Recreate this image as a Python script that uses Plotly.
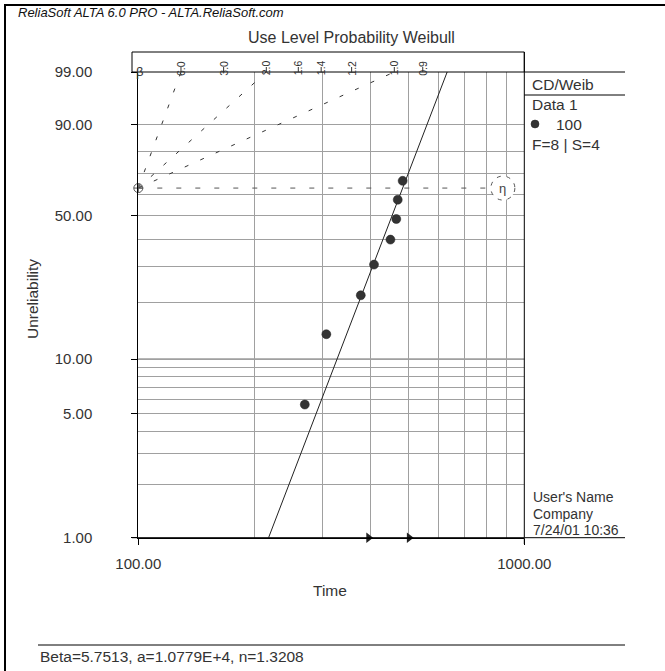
import numpy as np
import plotly.graph_objects as go

W, H = 665, 671

# ---------------- data ----------------
fail_times = [270, 307, 377, 408, 450, 466, 470, 484]
fail_unrel = [5.63, 13.6, 21.65, 30.6, 39.8, 48.6, 57.6, 66.7]   # percent
susp_times = [395, 503]
beta_fit = 5.7513
eta_fit = 484.0

y_tick_pct = [1, 5, 10, 50, 90, 99]
y_tick_text = ["1.00", "5.00", "10.00", "50.00", "90.00", "99.00"]
y_minor_pct = [2, 3, 4, 6, 7, 8, 9, 20, 30, 40, 60, 70, 80]
x_tick_vals = [100, 1000]
x_tick_text = ["100.00", "1000.00"]
x_minor_vals = [200, 300, 400, 500, 600, 700, 800, 900]
beta_scale = [6.0, 3.0, 2.0, 1.6, 1.4, 1.2, 1.0, 0.9]
beta_scale_text = ["6.0", "3.0", "2.0", "1.6", "1.4", "1.2", "1.0", "0.9"]
beta_guides = [6.0, 2.0, 1.0]
origin_t = 100.0
eta_label_t = 880.0
eta_line_end_t = 820.0


def wb(p):
    p = np.asarray(p, dtype=float) / 100.0
    return np.log(-np.log(1 - p))


def px(x):
    return x / W


def py(y):
    return 1 - y / H


FONT = "Arial, Liberation Sans, Helvetica, sans-serif"
GRID = "#a0a0a0"
w_lo, w_hi = float(wb(1)), float(wb(99))

# plot area in pixels
L, R, T, B = 138.3, 524.3, 72.0, 537.7

fig = go.Figure()

# beta guide lines (dashed) from origin
for b in beta_guides:
    t_top = origin_t * np.exp(w_hi / b)
    fig.add_trace(go.Scatter(x=[origin_t, t_top], y=[0, w_hi], mode="lines",
                             line=dict(color="#333333", width=1, dash="4px,13px"),
                             hoverinfo="skip", showlegend=False))

# eta dashed line
fig.add_trace(go.Scatter(x=[origin_t, eta_line_end_t], y=[0, 0], mode="lines",
                         line=dict(color="#555555", width=1, dash="5px,14px"),
                         hoverinfo="skip", showlegend=False))

# fitted line
t_line = [eta_fit * np.exp(w_lo / beta_fit), eta_fit * np.exp(w_hi / beta_fit)]
fig.add_trace(go.Scatter(x=t_line, y=[w_lo, w_hi], mode="lines",
                         line=dict(color="#222222", width=1),
                         hoverinfo="skip", showlegend=False))

# failure points
fig.add_trace(go.Scatter(x=fail_times, y=wb(fail_unrel), mode="markers",
                         marker=dict(color="#333333", size=9,
                                     line=dict(color="#222222", width=0.5)),
                         showlegend=False))

# suspensions
fig.add_trace(go.Scatter(x=susp_times, y=[w_lo] * len(susp_times), mode="markers",
                         marker=dict(symbol="triangle-right", color="#222222", size=9),
                         cliponaxis=False, showlegend=False))

# origin marker
fig.add_trace(go.Scatter(x=[origin_t], y=[0], mode="markers",
                         marker=dict(symbol="circle-cross-open", color="#555555", size=9,
                                     line=dict(width=1)),
                         cliponaxis=False, showlegend=False))

shapes = []
annotations = []


def pline(x0, y0, x1, y1, color="black", width=1):
    shapes.append(dict(type="line", xref="paper", yref="paper",
                       x0=px(x0), y0=py(y0), x1=px(x1), y1=py(y1),
                       line=dict(color=color, width=width), layer="above"))


# 10% darker gridline
shapes.append(dict(type="line", xref="paper", yref="y", x0=px(L), x1=px(R),
                   y0=float(wb(10)), y1=float(wb(10)),
                   line=dict(color="#444444", width=1), layer="below"))

# beta box
shapes.append(dict(type="rect", xref="paper", yref="paper",
                   x0=px(132), y0=py(52), x1=px(R), y1=py(T),
                   line=dict(color="black", width=1), fillcolor="white", layer="above"))
for b, txt in zip(beta_scale, beta_scale_text):
    tb = float(origin_t * np.exp(w_hi / b))
    shapes.append(dict(type="line", xref="x", yref="paper", x0=tb, x1=tb,
                       y0=py(72), y1=py(67), line=dict(color="#333333", width=1),
                       layer="above"))
    annotations.append(dict(x=float(np.log10(tb)), y=py(58.5), xref="x", yref="paper",
                            text=txt, textangle=-90, showarrow=False,
                            font=dict(family=FONT, size=10.5, color="#333333")))
annotations.append(dict(x=px(134), y=py(62), xref="paper", yref="paper", text="β",
                        xanchor="left", showarrow=False,
                        font=dict(family=FONT, size=13, color="#333333")))

# right border and legend panel
pline(R, 52, R, B)
pline(R, T, 625, T)
pline(R, 95, 625, 95)
pline(R, B, 625, B)
pline(132, B, R, B)
pline(R, B, R, 544)
# frame
pline(4, 5, 665, 5, width=2)
pline(5, 4, 5, 671, width=2)
# bottom line
pline(38, 645, 625, 645)

# legend marker
shapes.append(dict(type="circle", xref="paper", yref="paper",
                   x0=px(531), x1=px(539), y0=py(128), y1=py(120),
                   line=dict(color="#222222", width=0.5), fillcolor="#333333",
                   layer="above"))

# eta circle (data coordinates on the log axis)
k = 10 ** (12 / (R - L))
ry = 12 / ((B - T) / (w_hi - w_lo))
shapes.append(dict(type="circle", xref="x", yref="y",
                   x0=eta_label_t / k, x1=eta_label_t * k,
                   y0=-ry, y1=ry, line=dict(color="#555555", width=1, dash="4px,6px"),
                   fillcolor="white", layer="above"))
annotations.append(dict(x=float(np.log10(eta_label_t)), y=0, xref="x", yref="y",
                        text="η", showarrow=False,
                        font=dict(family=FONT, size=13, color="#444444")))


def ptext(x, y, text, size=15.5, anchor="left", angle=0, italic=False, color="#333333"):
    annotations.append(dict(x=px(x), y=py(y), xref="paper", yref="paper", text=text,
                            xanchor=anchor, yanchor="middle", showarrow=False,
                            textangle=angle,
                            font=dict(family=FONT, size=size, color=color,
                                      style="italic" if italic else "normal")))


ptext(16, 13, "ReliaSoft ALTA 6.0 PRO - ALTA.ReliaSoft.com", size=13, italic=True, color="#111111")
ptext(351, 37, "Use Level Probability Weibull", size=16, anchor="center")
ptext(530, 84, "CD/Weib")
ptext(530, 104, "Data 1")
ptext(554, 124, "100")
ptext(530, 145, "F=8 | S=4")
ptext(531, 497, "User's Name", size=14)
ptext(531, 513.5, "Company", size=14)
ptext(531, 530, "7/24/01 10:36", size=14)
ptext(330, 590, "Time", anchor="center")
ptext(32, 299, "Unreliability", anchor="center", angle=-90)
ptext(38, 656, "Beta=5.7513, a=1.0779E+4, n=1.3208")

fig.update_layout(
    template="none",
    width=W, height=H, margin=dict(l=0, r=0, t=0, b=0, pad=0), autosize=False,
    paper_bgcolor="white", plot_bgcolor="white",
    shapes=shapes, annotations=annotations, showlegend=False,
    font=dict(family=FONT, size=15, color="#333333"),
    xaxis=dict(type="log", range=[2, 3], domain=[px(L), px(R)], automargin=False,
               tickmode="array", tickvals=x_tick_vals, ticktext=x_tick_text,
               ticks="outside", ticklen=6, tickcolor="black", tickwidth=1,
               showgrid=True, gridcolor=GRID, gridwidth=1,
               showline=True, linecolor="black", linewidth=1,
               zeroline=False, ticklabelstandoff=6,
               tickfont=dict(family=FONT, size=15, color="#333333"),
               minor=dict(tickmode="array", tickvals=x_minor_vals, showgrid=True,
                          gridcolor=GRID, gridwidth=1, ticks="")),
    yaxis=dict(range=[w_lo, w_hi], domain=[py(B), py(T)], automargin=False,
               tickmode="array", tickvals=list(wb(y_tick_pct)), ticktext=y_tick_text,
               ticks="outside", ticklen=6, tickcolor="black", tickwidth=1,
               showgrid=True, gridcolor=GRID, gridwidth=1,
               showline=True, linecolor="black", linewidth=1,
               zeroline=False, ticklabelstandoff=36,
               tickfont=dict(family=FONT, size=15, color="#333333"),
               minor=dict(tickmode="array", tickvals=list(wb(y_minor_pct)), showgrid=True,
                          gridcolor=GRID, gridwidth=1, ticks="")),
)

fig.write_html("out.html")
